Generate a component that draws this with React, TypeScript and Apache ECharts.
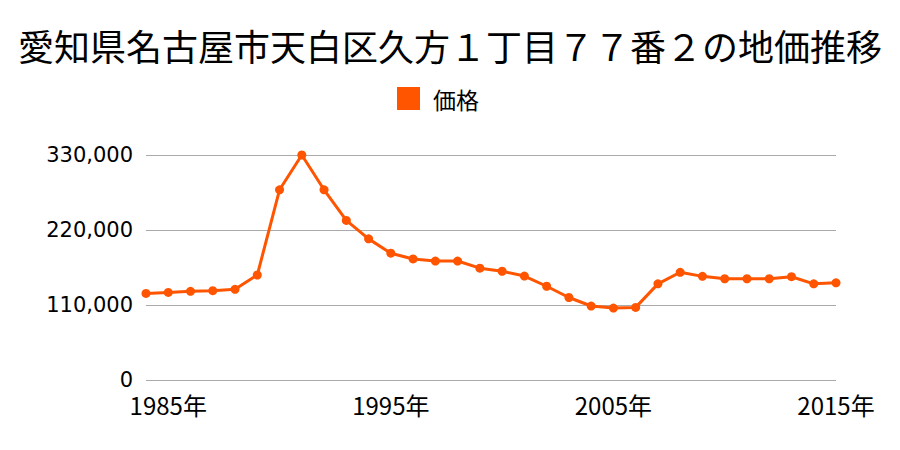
import React, { useEffect, useRef } from "react";
import * as echarts from "echarts";

const titleText = "愛知県名古屋市天白区久方１丁目７７番２の地価推移";
const seriesName = "価格";
const years = [
  1984, 1985, 1986, 1987, 1988, 1989, 1990, 1991, 1992, 1993, 1994, 1995, 1996,
  1997, 1998, 1999, 2000, 2001, 2002, 2003, 2004, 2005, 2006, 2007, 2008, 2009,
  2010, 2011, 2012, 2013, 2014, 2015,
];
const prices = [
  127000, 128500, 130000, 131000, 133000, 154000, 279000, 330000, 279000, 234000,
  207000, 186000, 177500, 174500, 174500, 164000, 159500, 152500, 137500, 121000,
  108500, 105500, 106500, 141000, 158000, 152000, 148500, 148500, 148500, 151500,
  141000, 142500,
];
const labeledYears = [1985, 1995, 2005, 2015];
const yTicks = [0, 110000, 220000, 330000];

export default function App() {
  const ref = useRef<HTMLDivElement>(null);
  useEffect(() => {
    if (!ref.current) return;
    const chart = echarts.init(ref.current, null, { renderer: "svg" });
    const font = "'Noto Sans CJK JP', sans-serif";
    chart.setOption({
      animation: false,
      title: {
        text: titleText,
        left: "center",
        top: 22,
        textStyle: { fontFamily: font, fontSize: 36, fontWeight: "normal", color: "#000" },
      },
      legend: {
        data: [seriesName],
        top: 82,
        left: 392,
        icon: "rect",
        itemWidth: 23,
        itemHeight: 23,
        itemGap: 10,
        textStyle: { fontFamily: font, fontSize: 23, color: "#000", padding: [0, 0, 0, 8] },
      },
      grid: { left: 146, right: 64, top: 155, bottom: 70, containLabel: false },
      xAxis: {
        type: "category",
        data: years.map(String),
        boundaryGap: false,
        axisLine: { show: false },
        axisTick: { show: false },
        axisLabel: {
          interval: 0,
          formatter: (v: string) => (labeledYears.includes(Number(v)) ? v + "年" : ""),
          fontFamily: font,
          fontSize: 24,
          lineHeight: 24,
          color: "#000",
          margin: 12,
        },
        splitLine: { show: false },
      },
      yAxis: {
        type: "value",
        min: 0,
        max: yTicks[yTicks.length - 1],
        interval: 110000,
        axisLine: { show: false },
        axisTick: { show: false },
        axisLabel: {
          fontFamily: "'DejaVu Sans', sans-serif",
          fontSize: 21,
          lineHeight: 18,
          color: "#000",
          margin: 13,
          formatter: (v: number) => v.toLocaleString("en-US"),
        },
        splitLine: { lineStyle: { color: "#aaaaaa", width: 1 } },
      },
      series: [
        {
          name: seriesName,
          type: "line",
          data: prices,
          symbol: "circle",
          symbolSize: 9,
          itemStyle: { color: "#ff5500" },
          lineStyle: { color: "#ff5500", width: 3 },
        },
      ],
    });
    return () => chart.dispose();
  }, []);
  return <div ref={ref} style={{ width: 900, height: 450, margin: -8 }} />;
}
